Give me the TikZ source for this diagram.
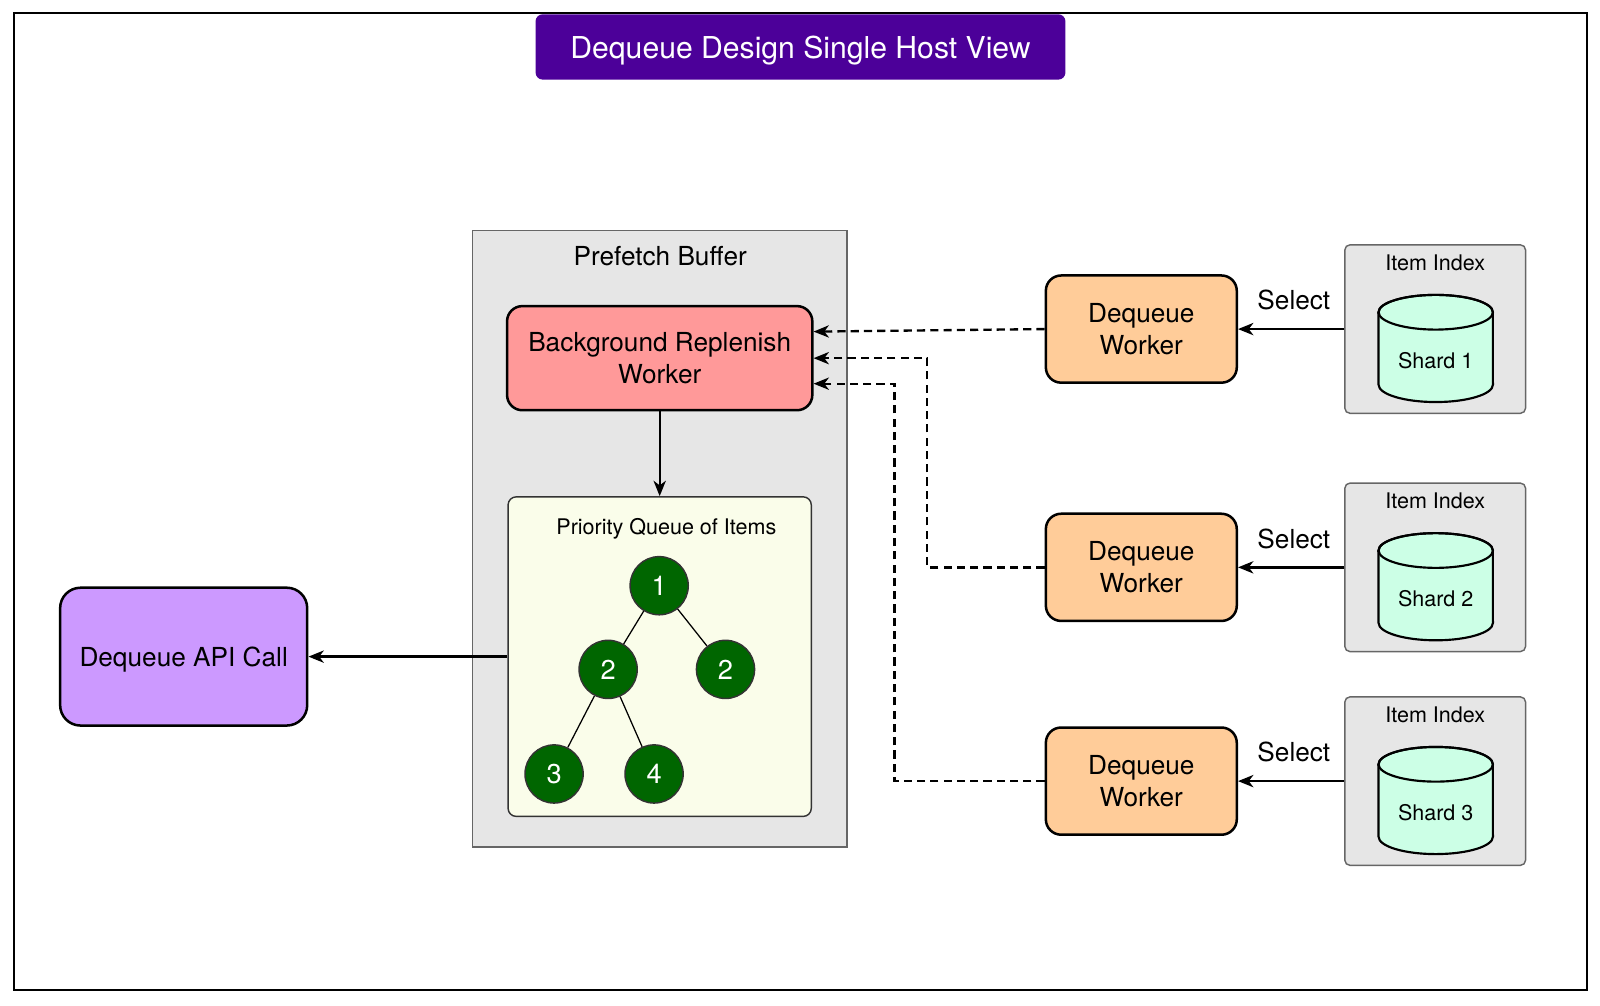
\documentclass[tikz,border=0pt]{standalone}
\usepackage{fontspec}
\setmainfont{TeX Gyre Heros}
\usetikzlibrary{arrows.meta,calc}
\definecolor{titlec}{HTML}{4C0099}
\definecolor{brwc}{HTML}{FF9999}
\definecolor{pqc}{HTML}{FAFDEA}
\definecolor{treec}{HTML}{006600}
\definecolor{apic}{HTML}{CC99FF}
\definecolor{workc}{HTML}{FFCC99}
\definecolor{grayc}{HTML}{E6E6E6}
\definecolor{cylc}{HTML}{CCFFE6}
\definecolor{edgec}{HTML}{666666}
\newcommand\dqmain{\fontsize{7.3}{8.9}\selectfont}
\newcommand\dqsmall{\fontsize{6}{7.2}\selectfont}
\newcommand\dqtitle{\fontsize{8.4}{10}\selectfont}
\begin{document}
\begin{tikzpicture}[x=0.01cm,y=-0.01cm,
  box/.style={draw=black, line width=0.7pt, rounded corners=0.15cm, align=center, font=\dqmain, inner sep=0pt},
  worker/.style={box, fill=workc, minimum width=1.87cm, minimum height=1.05cm},
  idxbox/.style={draw=edgec, line width=0.4pt, fill=grayc, rounded corners=0.05cm, minimum width=1.77cm, minimum height=1.65cm, inner sep=0pt},
  lbl/.style={font=\dqmain, inner sep=0pt, text depth=0pt},
  smalllbl/.style={font=\dqsmall, inner sep=0pt, text depth=0pt},
  tnode/.style={circle, draw=black!80, line width=0.4pt, fill=treec, text=white, font=\fontsize{7.6}{9}\selectfont, minimum size=0.57cm, inner sep=0pt, text depth=0pt},
  arr/.style={-{Stealth[length=0.15cm,width=0.12cm,inset=0.045cm]}, line width=0.65pt},
  dsh/.style={arr, dash pattern=on 0.08cm off 0.05cm},
  cylpath/.style={fill=cylc, draw=black, line width=0.6pt}
]
\useasboundingbox (0,0) rectangle (1568,985);
% outer frame
\node[draw=black, line width=0.7pt, minimum width=15.41cm, minimum height=9.57cm, inner sep=0pt] (frame) at (784.5,491.5) {};
% title
\node[fill=titlec, rounded corners=0.07cm, minimum width=5.19cm, minimum height=0.64cm, text=white, font=\dqtitle, inner sep=0pt, text depth=0pt] (title) at (784.5,46) {Dequeue Design Single Host View};
% prefetch buffer
\node[draw=edgec, line width=0.4pt, fill=grayc, minimum width=3.67cm, minimum height=6.04cm, inner sep=0pt] (pb) at (646.5,528) {};
\node[lbl] (pbl) at (647,251) {Prefetch Buffer};
\node[box, fill=brwc, minimum width=2.99cm, minimum height=1.02cm] (brw) at (646.5,351) {Background Replenish\\Worker};
\node[draw=black!80, line width=0.4pt, fill=pqc, rounded corners=0.08cm, minimum width=2.97cm, minimum height=3.13cm, inner sep=0pt] (pq) at (646.5,643.5) {};
\node[smalllbl] (pql) at (653,516) {Priority Queue of Items};
% tree
\node[tnode] (c1) at (646,574) {1};
\node[tnode] (c2) at (596,656) {2};
\node[tnode] (c3) at (711,656) {2};
\node[tnode] (c4) at (543,758.5) {3};
\node[tnode] (c5) at (641,758.5) {4};
\draw[line width=0.35pt] (c1) -- (c2);
\draw[line width=0.35pt] (c1) -- (c3);
\draw[line width=0.35pt] (c2) -- (c4);
\draw[line width=0.35pt] (c2) -- (c5);
% api
\node[box, fill=apic, rounded corners=0.2cm, minimum width=2.42cm, minimum height=1.35cm, text depth=0pt] (api) at (180,643.5) {Dequeue API Call};
\draw[arr] (brw.south) -- (pq.north);
\draw[arr] (pq.west) -- (api.east);
% right side
\foreach \yc [count=\i] in {322.5,556,765.5} {
  \node[worker] (w\i) at (1118.5,\yc) {Dequeue\\Worker};
  \node[idxbox] (ix\i) at (1406.5,\yc) {};
  \node[smalllbl] (ixl\i) at (1406.5,\yc-65.5) {Item Index};
  \path[cylpath] (1351,\yc-16.5) -- (1351,\yc+54.5)
     arc[start angle=180,end angle=360,x radius=0.56cm,y radius=0.17cm]
     -- (1463,\yc-16.5)
     arc[start angle=0,end angle=180,x radius=0.56cm,y radius=0.17cm] -- cycle;
  \draw[line width=0.6pt] (1407,\yc-16.5) ellipse [x radius=0.56cm, y radius=0.17cm];
  \node[smalllbl] (sh\i) at (1407,\yc+30.5) {Shard \i};
  \draw[arr] (ix\i.west) -- (w\i.east);
  \node[lbl] (sel\i) at (1268,\yc-28.5) {Select};
}
\draw[dsh] (w1.west) -- ([yshift=0.26cm]brw.east);
\draw[dsh] (w2.west) -- ++(-115,0) |- (brw.east);
\draw[dsh] (w3.west) -- ++(-147,0) |- ([yshift=-0.25cm]brw.east);
\end{tikzpicture}
\end{document}
